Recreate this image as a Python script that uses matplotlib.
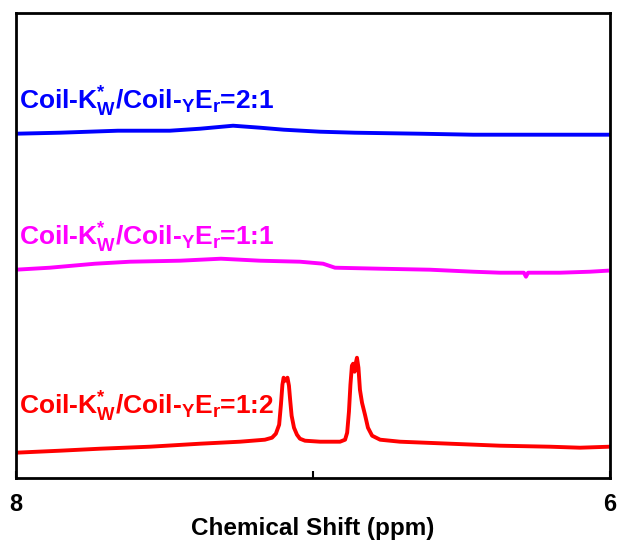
import matplotlib
matplotlib.use("Agg")
import matplotlib.pyplot as plt

# chemical shift (ppm) and intensity (a.u.)
ppm_red = [8.000, 7.851, 7.716, 7.548, 7.379, 7.245, 7.161, 7.137, 7.124, 7.113,
           7.107, 7.102, 7.098, 7.092, 7.085, 7.080, 7.076, 7.071, 7.063, 7.053,
           7.043, 7.026, 6.975, 6.908, 6.891, 6.884, 6.878, 6.873, 6.868, 6.864,
           6.859, 6.854, 6.851, 6.846, 6.841, 6.834, 6.824, 6.814, 6.800, 6.773,
           6.706, 6.538, 6.369, 6.201, 6.100, 6.000]
int_red = [25, 27, 29, 31, 34, 36, 38, 40, 44, 53,
           73, 93, 100, 97, 100, 92, 78, 62, 50, 43,
           39, 37, 36, 36, 38, 45, 66, 93, 112, 114,
           106, 116, 120, 110, 88, 75, 63, 50, 42, 38,
           36, 34, 32, 31, 30, 31]

ppm_mag = [8.000, 7.885, 7.733, 7.615, 7.447, 7.309, 7.177, 7.043, 6.965, 6.925,
           6.773, 6.605, 6.460, 6.369, 6.289, 6.282, 6.275, 6.167, 6.066, 6.009]
int_mag = [208, 210, 214, 216, 217, 219, 217, 216, 214, 210,
           209, 208, 206, 205, 205, 201, 205, 205, 206, 207]

ppm_blue = [8.000, 7.851, 7.656, 7.481, 7.379, 7.268, 7.177, 7.097, 6.975, 6.858,
            6.639, 6.460, 6.235, 6.000]
int_blue = [344, 345, 347, 347, 349, 352, 350, 348, 346, 345,
            344, 343, 343, 343]

labels = [r"Coil-K$_{W}^{*}$/Coil-$_{Y}$E$_{r}$=2:1",
          r"Coil-K$_{W}^{*}$/Coil-$_{Y}$E$_{r}$=1:1",
          r"Coil-K$_{W}^{*}$/Coil-$_{Y}$E$_{r}$=1:2"]
label_y = [368, 232, 63]
colors = ["#0000ff", "#ff00ff", "#ff0000"]


def main():
    plt.rcParams["font.family"] = ["Liberation Sans", "DejaVu Sans"]
    plt.rcParams["font.weight"] = "bold"
    plt.rcParams["mathtext.fontset"] = "custom"
    plt.rcParams["mathtext.rm"] = "Liberation Sans:bold"
    plt.rcParams["mathtext.it"] = "Liberation Sans:bold"
    plt.rcParams["mathtext.bf"] = "Liberation Sans:bold"

    fig = plt.figure(figsize=(6.18, 5.41), dpi=100)
    ax = fig.add_axes([0.0254, 0.117, 0.9612, 0.8595])

    series = [(ppm_blue, int_blue), (ppm_mag, int_mag), (ppm_red, int_red)]
    for (x, y), c, lab, ly in zip(series, colors, labels, label_y):
        ax.plot(x, y, color=c, lw=2.8, solid_joinstyle="round")
        ax.text(7.99, ly, lab, color=c, fontsize=19, fontweight="bold",
                ha="left", va="baseline")

    ax.set_xlim(8, 6)
    ax.set_ylim(0, 465)
    ax.set_yticks([])
    ax.set_xticks([8, 7, 6])
    ax.set_xticklabels(["8", "", "6"])
    ax.tick_params(axis="x", direction="in", length=5, width=1.5,
                   pad=11, labelsize=17)
    for sp in ax.spines.values():
        sp.set_linewidth(2)
    ax.set_xlabel("Chemical Shift (ppm)", fontsize=17.5, fontweight="bold",
                  labelpad=1)

    fig.savefig("out.png", dpi=100)


if __name__ == "__main__":
    main()
